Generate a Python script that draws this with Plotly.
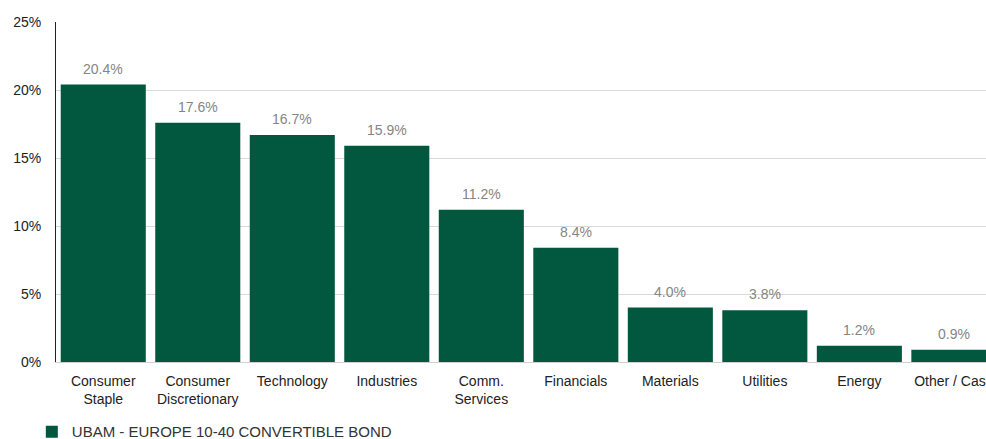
import plotly.graph_objects as go

categories = ["Consumer<br>Staple", "Consumer<br>Discretionary", "Technology", "Industries",
              "Comm.<br>Services", "Financials", "Materials", "Utilities", "Energy", "Other / Cash"]
values = [20.4, 17.6, 16.7, 15.9, 11.2, 8.4, 4.0, 3.8, 1.2, 0.9]
series_name = "UBAM - EUROPE 10-40 CONVERTIBLE BOND"
y_ticks = [0, 5, 10, 15, 20, 25]

x_idx = list(range(len(categories)))

fig = go.Figure()
fig.add_trace(go.Bar(
    x=x_idx, y=values, name=series_name,
    marker=dict(color="#02573F", line=dict(width=0)),
    showlegend=True,
))
for xi, v in zip(x_idx, values):
    fig.add_annotation(x=xi, y=v, text=f"{v:.1f}%", showarrow=False,
                       yanchor="bottom", yshift=6,
                       font=dict(color="#858585", size=14, family="Liberation Sans"))

fig.update_layout(
    width=986, height=439,
    margin=dict(l=56, r=0, t=22, b=77, autoexpand=False),
    plot_bgcolor="white", paper_bgcolor="white",
    bargap=0.1,
    font=dict(family="Liberation Sans", size=14, color="#222"),
    showlegend=True,
    legend=dict(orientation="h", x=-0.026, y=-0.157, xanchor="left", yanchor="top",
                font=dict(size=15, color="#333"), itemwidth=30, maxheight=80,
                tracegroupgap=0),
)
fig.update_xaxes(
    tickmode="array", tickvals=x_idx, ticktext=categories,
    range=[-0.5, 9.34], showgrid=False, showline=True, linecolor="#d0d0d0", linewidth=1,
    ticks="", tickfont=dict(size=14, color="#222"), automargin=False, tickangle=0,
    ticklabeloverflow="allow", ticklabelstandoff=6,
)
fig.update_yaxes(
    range=[0, 25], tickvals=y_ticks, ticktext=[f"{t}%" for t in y_ticks],
    showgrid=True, gridcolor="#d9d9d9", gridwidth=1,
    showline=True, linecolor="#222", linewidth=1, zeroline=False,
    ticks="", ticklen=0, tickfont=dict(size=14, color="#222"), automargin=False,
    ticklabelstandoff=11,
)
fig.write_html(
    "out.html",
    config={"displayModeBar": False},
    post_script="document.body.style.margin='0';document.documentElement.style.overflow='hidden';document.body.style.overflow='hidden';",
)
